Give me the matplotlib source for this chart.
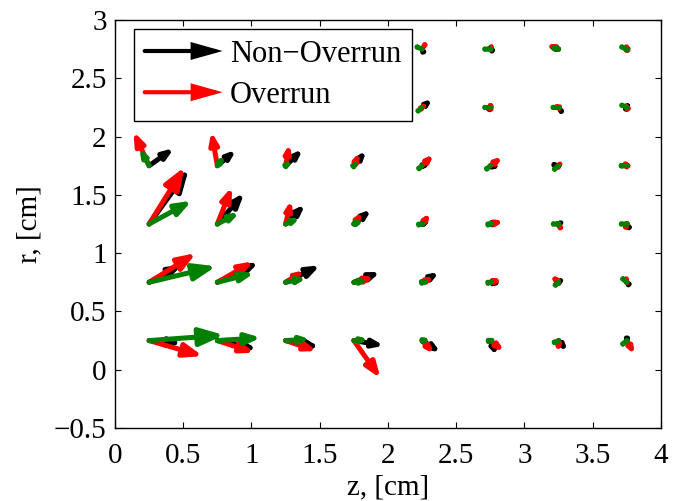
import numpy as np
import matplotlib
matplotlib.use("Agg")
import matplotlib.pyplot as plt
from matplotlib.patches import FancyArrowPatch
from matplotlib.legend_handler import HandlerBase
from matplotlib.lines import Line2D

plt.rcParams['font.family'] = ['Liberation Serif', 'DejaVu Serif']

# ---- data -------------------------------------------------------------
z_vals = [0.25, 0.75, 1.25, 1.75, 2.25, 2.75, 3.25, 3.75]
r_vals = [0.25, 0.75, 1.25, 1.75, 2.25, 2.75]
nan = np.nan

# Non-Overrun (black): dz per row (r), per column (z)
u_black = [
    [0.240, 0.291, 0.249, 0.222, 0.137, 0.049, 0.068, -0.002],
    [0.240, 0.303, 0.254, 0.195, 0.127, 0.093, 0.049, -0.027],
    [0.290, 0.198, 0.144, 0.129, 0.071, 0.085, 0.056, -0.015],
    [0.183, 0.139, 0.127, 0.093, 0.071, 0.085, 0.020, 0.010],
    [nan, nan, nan, nan, 0.078, 0.024, -0.012, 0.022],
    [nan, nan, nan, nan, -0.015, -0.037, -0.090, -0.056],
]
v_black = [
    [-0.024, -0.075, -0.058, -0.044, -0.104, -0.133, -0.096, -0.053],
    [0.152, 0.172, 0.146, 0.089, 0.089, -0.011, 0.051, 0.037],
    [0.470, 0.268, 0.169, 0.126, 0.049, 0.020, 0.034, 0.028],
    [0.152, 0.137, 0.143, 0.131, 0.017, -0.014, -0.005, 0.000],
    [nan, nan, nan, nan, 0.077, 0.049, 0.020, 0.054],
    [nan, nan, nan, nan, 0.043, 0.034, 0.040, 0.034],
]
# Overrun (red)
u_red = [
    [0.393, 0.271, 0.229, 0.195, 0.090, 0.103, -0.005, 0.059],
    [0.344, 0.266, 0.139, 0.154, 0.095, 0.093, -0.066, 0.010],
    [0.260, 0.107, 0.042, 0.068, 0.064, 0.103, -0.012, 0.010],
    [-0.115, -0.044, 0.029, 0.044, 0.088, 0.093, 0.037, -0.039],
    [nan, nan, nan, nan, 0.040, 0.000, -0.061, -0.027],
    [nan, nan, nan, nan, -0.008, 0.024, -0.098, -0.010],
]
v_red = [
    [-0.133, -0.105, -0.090, -0.324, -0.116, -0.096, -0.110, -0.124],
    [0.251, 0.180, 0.103, 0.046, 0.046, 0.029, 0.069, -0.040],
    [0.490, 0.320, 0.206, 0.106, 0.097, 0.026, 0.029, 0.040],
    [0.294, 0.294, 0.189, 0.117, 0.100, 0.080, 0.051, 0.057],
    [nan, nan, nan, nan, 0.040, 0.063, 0.020, 0.054],
    [nan, nan, nan, nan, -0.015, 0.071, 0.043, 0.071],
]
# third series (green)
u_green = [
    [0.549, 0.320, 0.181, 0.112, 0.071, 0.049, 0.020, 0.010],
    [0.491, 0.271, 0.156, 0.112, 0.064, 0.044, 0.020, 0.010],
    [0.313, 0.163, 0.110, 0.080, 0.034, 0.044, 0.015, 0.010],
    [-0.071, 0.059, 0.054, 0.049, 0.020, 0.015, 0.010, 0.010],
    [nan, nan, nan, nan, 0.010, 0.010, 0.010, 0.010],
    [nan, nan, nan, nan, 0.010, 0.010, 0.020, 0.010],
]
v_green = [
    [0.047, 0.024, 0.013, 0.010, 0.010, 0.010, 0.010, 0.010],
    [0.137, 0.080, 0.037, 0.017, 0.017, 0.011, 0.020, -0.010],
    [0.200, 0.100, 0.057, 0.034, 0.006, 0.011, 0.000, 0.000],
    [0.152, 0.094, 0.046, 0.045, 0.020, 0.015, 0.010, 0.000],
    [nan, nan, nan, nan, 0.010, 0.000, 0.000, -0.005],
    [nan, nan, nan, nan, -0.005, 0.000, -0.005, -0.005],
]
series = [
    ("Non\u2212Overrun", "black", u_black, v_black),
    ("Overrun", "#ff0000", u_red, v_red),
    (None, "#008000", u_green, v_green),
]
x_ticks = [0, 0.5, 1, 1.5, 2, 2.5, 3, 3.5, 4]
y_ticks = [-0.5, 0, 0.5, 1, 1.5, 2, 2.5, 3]

# ---- figure -----------------------------------------------------------
FS = 21
fig = plt.figure(figsize=(6.82, 5.01), dpi=100)
ax = fig.add_axes([115/682, 1-428/501, 546/682, 408/501])
ax.set_xlim(0, 4)
ax.set_ylim(-0.5, 3)
ax.set_xticks(x_ticks)
ax.set_yticks(y_ticks)
ax.set_xticklabels([f"{t:g}".replace("-", "\u2212") for t in x_ticks])
ax.set_yticklabels([f"{t:g}".replace("-", "\u2212") for t in y_ticks])
ax.tick_params(direction='in', top=True, right=True, length=4.5, width=0.8,
               labelsize=FS)
ax.tick_params(axis='y', pad=6)
ax.tick_params(axis='x', pad=11)
for s in ax.spines.values():
    s.set_linewidth(1.0)
ax.set_xlabel("z, [cm]", fontsize=FS, labelpad=4)
ax.set_ylabel("r, [cm]", fontsize=FS, labelpad=8)

LW = 3.6
def draw_arrow(x, y, u, v, color):
    if np.isnan(u) or np.isnan(v):
        return
    p0 = ax.transData.transform((x, y))
    p1 = ax.transData.transform((x + u, y + v))
    L = np.hypot(*(p1 - p0)) * 72 / fig.dpi  # in points
    hl = max(0.27 * L, 0.01)
    hw = 0.10 * L + 0.01
    arr = FancyArrowPatch((x, y), (x + u, y + v),
                          arrowstyle=f"-|>,head_length={hl},head_width={hw}",
                          mutation_scale=1, shrinkA=0, shrinkB=0,
                          color=color, lw=LW, capstyle='round',
                          joinstyle='round', zorder=3)
    ax.add_patch(arr)

for label, color, U, V in series:
    for i, r in enumerate(r_vals):
        for j, z in enumerate(z_vals):
            draw_arrow(z, r, U[i][j], V[i][j], color)

class HandlerArrow(HandlerBase):
    def create_artists(self, legend, orig_handle, xdescent, ydescent,
                       width, height, fontsize, trans):
        y = height / 2 - ydescent
        p = FancyArrowPatch((-xdescent, y), (width - xdescent, y),
                            arrowstyle="-|>,head_length=16,head_width=4.5",
                            mutation_scale=1, shrinkA=0, shrinkB=0,
                            color=orig_handle.get_color(), lw=3.0,
                            joinstyle='miter', transform=trans)
        return [p]

handles = [Line2D([], [], color=c) for lab, c, _, _ in series if lab]
labels = [lab for lab, c, _, _ in series if lab]
leg = ax.legend(handles, labels, handler_map={Line2D: HandlerArrow()},
                loc='upper left', bbox_to_anchor=(19/546, 1 - 9/408),
                borderaxespad=0, fontsize=22, handlelength=2.55,
                handletextpad=0.25, labelspacing=0.4, borderpad=0.35,
                fancybox=False, framealpha=1, edgecolor='black')
leg.get_frame().set_linewidth(1.0)
leg.set_zorder(5)

fig.savefig("out.png", dpi=100)
